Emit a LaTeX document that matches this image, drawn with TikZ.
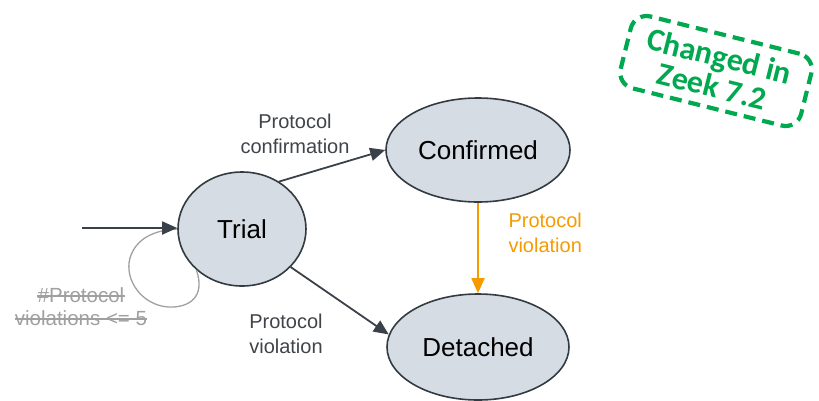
\documentclass[tikz,border=0pt]{standalone}
\usepackage{fontspec}
\setmainfont{Liberation Sans}
\newfontfamily\stampfont{Carlito}
\usetikzlibrary{arrows.meta,shapes.geometric}
\definecolor{statefill}{HTML}{D6DCE4}
\definecolor{stateline}{HTML}{333B42}
\definecolor{edgecol}{HTML}{3A4148}
\definecolor{labelcol}{HTML}{404448}
\definecolor{violorange}{HTML}{F59B00}
\definecolor{oldgray}{HTML}{A0A0A0}
\definecolor{stampgreen}{HTML}{00A84F}
\tikzset{
  state/.style={ellipse, draw=stateline, fill=statefill, line width=1.6pt,
    inner sep=0pt, font=\fontsize{26}{30}\selectfont},
  tip/.style={-{Triangle[length=15pt,width=13pt]}},
  edge/.style={draw=edgecol, line width=1.8pt, tip},
  elabel/.style={text=labelcol, font=\fontsize{20}{25}\selectfont, align=center},
  oldtext/.style={text=oldgray, font=\fontsize{20.5}{22}\selectfont, inner sep=0pt},
  strike/.style={draw=oldgray, line width=1.2pt},
}
\begin{document}
\begin{tikzpicture}[x=1pt,y=-1pt]
\useasboundingbox (0,0) rectangle (819,400);

% states
\node[state, minimum width=128pt, minimum height=114pt] (trial) at (242,229) {Trial};
\node[state, minimum width=184pt, minimum height=104pt] (conf) at (478,150) {Confirmed};
\node[state, minimum width=182pt, minimum height=106pt] (det) at (478,347) {Detached};

% obsolete self loop, its label struck through
\draw[oldgray, line width=1.3pt] (trial.222) .. controls (206,298) and (188,308) .. (168,307)
  .. controls (142,305) and (124,280) .. (130,258)
  .. controls (136,238) and (155,230) .. (trial.west);
\node[oldtext] (old1) at (81,295) {\#Protocol};
\node[oldtext] (old2) at (81,318) {violations <= 5};
\draw[strike] ([yshift=-1pt]old1.west) -- ([yshift=-1pt]old1.east);
\draw[strike] ([yshift=-1pt]old2.west) -- ([yshift=-1pt]old2.east);

% entry arrow
\coordinate (start) at (82,228);
\draw[edge] (start) -- (trial.west |- start);

% transitions
\draw[edge] (trial.52) -- (conf.west);
\node[elabel] (lconf) at (295,134) {Protocol\\confirmation};

\draw[edge] (trial.-38) -- (det.172);
\node[elabel] (lviol) at (286,334) {Protocol\\violation};

\draw[draw=violorange, line width=1.8pt, tip] (conf.south) -- (det.north);
\node[elabel, text=violorange, align=left, anchor=west] (lorange) at (505,233) {Protocol\\violation};

% version stamp
\node[draw=stampgreen, line width=4.2pt, dash pattern=on 12pt off 7pt, rounded corners=16pt,
  text=stampgreen, font=\stampfont\bfseries\fontsize{32}{31}\selectfont, align=center,
  minimum width=186pt, minimum height=74pt, inner sep=0pt, rotate=-14] (stamp) at (716,71)
  {Changed in\\Zeek 7.2};
\end{tikzpicture}
\end{document}
